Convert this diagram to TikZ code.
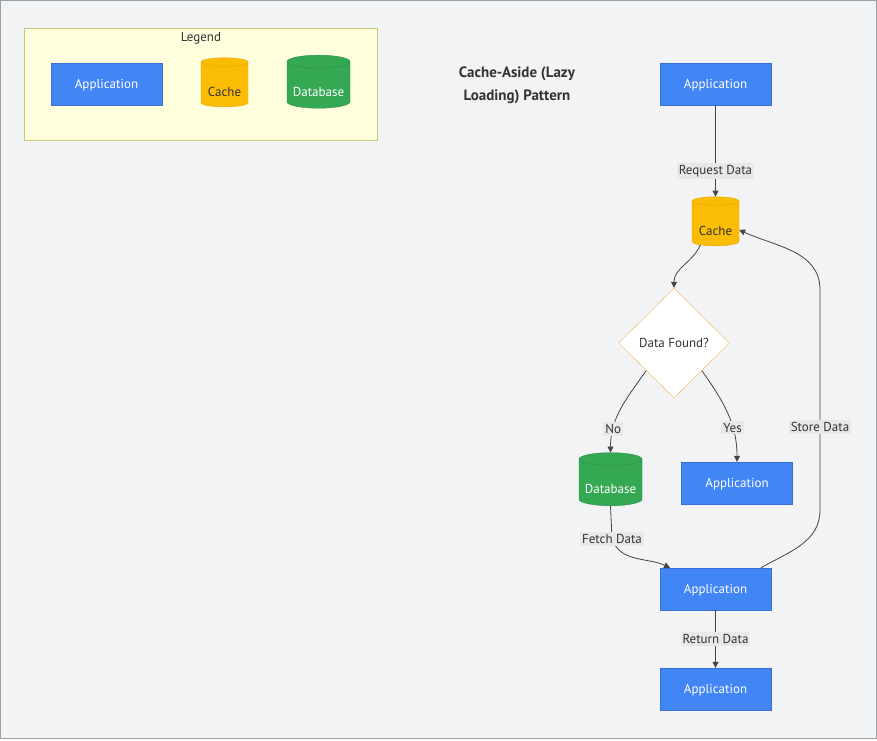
\documentclass[tikz,border=0pt]{standalone}
\usepackage{fontspec}
\setmainfont{PT Sans}
\usetikzlibrary{shapes.geometric,arrows.meta}
\definecolor{canvas}{HTML}{F1F3F5}
\definecolor{frame}{HTML}{9AA0A6}
\definecolor{appblue}{HTML}{4285F4}
\definecolor{appedge}{HTML}{3B6FD6}
\definecolor{cacheyellow}{HTML}{FBBC04}
\definecolor{cacheedge}{HTML}{E6A600}
\definecolor{dbgreen}{HTML}{34A853}
\definecolor{dbedge}{HTML}{2B8F45}
\definecolor{decedge}{HTML}{F2B45A}
\definecolor{legendfill}{HTML}{FFFFDE}
\definecolor{legendedge}{HTML}{C9C97A}
\definecolor{lblgray}{HTML}{E8E8E8}
\definecolor{textdark}{HTML}{333333}
\definecolor{linegray}{HTML}{444444}
\tikzset{
  app/.style={rectangle, draw=appedge, fill=appblue, text=white, minimum width=111pt, minimum height=42pt, inner sep=0pt, text height=9pt, text depth=1pt},
  cachecyl/.style={cylinder, shape border rotate=90, aspect=0.25, draw=cacheedge, fill=cacheyellow, text=textdark, minimum width=47pt, minimum height=49pt, inner sep=0pt, text height=24pt, text depth=0pt},
  dbcyl/.style={cylinder, shape border rotate=90, aspect=0.25, draw=dbedge, fill=dbgreen, text=white, minimum width=63pt, minimum height=53pt, inner sep=0pt, text height=22pt, text depth=0pt},
  decision/.style={diamond, draw=decedge, fill=white, text=textdark, minimum width=111pt, minimum height=110pt, inner sep=0pt},
  lbl/.style={fill=lblgray, text=textdark, inner sep=2pt},
  flow/.style={draw=linegray, line width=0.8pt, -{Triangle[length=6pt,width=6pt]}},
}
\begin{document}
\begin{tikzpicture}[x=1pt, y=1pt, font=\fontsize{13}{15}\selectfont]
  \useasboundingbox (0,0) rectangle (877,-740);
  \draw[frame, fill=canvas] (0.5,-0.5) rectangle (876.5,-738.5);

  % legend
  \draw[legendedge, fill=legendfill] (24,-28) rectangle (377,-140);
  \node[text=textdark] (legendtitle) at (201,-38) {Legend};
  \node[app] (legapp) at (106.5,-84) {Application};
  \node[cachecyl] (legcache) at (224.5,-84.5) {Cache};
  \node[dbcyl] (legdb) at (318.5,-85) {Database};

  % title
  \node[text=textdark, font=\fontsize{15}{23}\selectfont\bfseries, align=center] (title) at (517,-85) {Cache-Aside (Lazy\\Loading) Pattern};

  % flow
  \node[app] (appreq) at (715.5,-84) {Application};
  \node[cachecyl] (cache) at (715.5,-223.5) {Cache};
  \node[decision] (found) at (674,-343) {Data Found?};
  \node[dbcyl] (db) at (610.5,-482.5) {Database};
  \node[app] (apphit) at (737,-483) {Application};
  \node[app] (appmiss) at (715.5,-589) {Application};
  \node[app] (appout) at (715.5,-689) {Application};
  \coordinate (fetchmid) at (612,-539);
  \coordinate (storelo) at (820,-510);
  \coordinate (storehi) at (820,-290);

  \draw[flow] (appreq) -- node[lbl, pos=0.72] {Request Data} (cache);
  \draw[flow] (cache.235) to[out=-115, in=90] (found.north);
  \draw[flow] (found.south west) to[out=-125, in=90] node[lbl, pos=0.75] {No} (db.north);
  \draw[flow] (found.south east) to[out=-55, in=90] node[lbl, pos=0.66] {Yes} (apphit.north);
  \draw[flow] (db.south) -- (fetchmid) node[lbl] {Fetch Data} to[out=-70, in=155] (appmiss.155);
  \draw[flow] (appmiss.25) to[out=30, in=-90] (storelo) -- node[lbl, pos=0.377] {Store Data} (storehi) to[out=90, in=-25] (cache.-15);
  \draw[flow] (appmiss) -- node[lbl] {Return Data} (appout);
\end{tikzpicture}
\end{document}
